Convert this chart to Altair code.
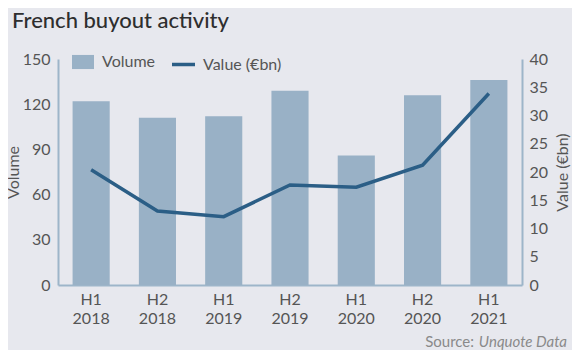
import altair as alt
import pandas as pd

periods = ["H1 2018", "H2 2018", "H1 2019", "H2 2019", "H1 2020", "H2 2020", "H1 2021"]
volume = [122, 111, 112, 129, 86, 126, 136]
value_bn = [20.4, 13.1, 12.1, 17.7, 17.3, 21.2, 33.9]

BG = "#E7E8EE"
BAR = "#99B1C6"
LINE = "#2B5E86"
AXIS = "#9DB5C9"
TXT = "#555555"
FONT = "Lato"

df = pd.DataFrame({"period": periods, "volume": volume, "value": value_bn,
                   "s1": "Volume", "s2": "Value (€bn)"})

x = alt.X("period:N", sort=periods, title=None,
          scale=alt.Scale(paddingInner=0.44, paddingOuter=0.22),
          axis=alt.Axis(labelAngle=0, labelExpr="split(datum.label, ' ')",
                        labelFontSize=16, labelColor=TXT, labelFont=FONT,
                        labelPadding=6, ticks=False, domainColor=AXIS,
                        domainWidth=2, labelLineHeight=19))

bars = alt.Chart(df).mark_bar(color=BAR).encode(
    x=x,
    y=alt.Y("volume:Q", title="Volume",
            scale=alt.Scale(domain=[0, 150], nice=False),
            axis=alt.Axis(values=[0, 30, 60, 90, 120, 150], grid=False, ticks=False,
                          domainColor=AXIS, domainWidth=2, labelFontSize=16,
                          labelColor=TXT, labelFont=FONT, labelPadding=8,
                          titleFontSize=16, titleFont=FONT, titleColor=TXT,
                          titleFontWeight="normal", titlePadding=1)),
    fill=alt.Fill("s1:N", scale=alt.Scale(domain=["Volume"], range=[BAR]),
                  legend=alt.Legend(orient="none", legendX=14, legendY=-8, title=None,
                                    symbolType="M-1,-0.64L1,-0.64L1,0.64L-1,0.64Z",
                                    symbolSize=484, symbolStrokeWidth=0,
                                    labelFontSize=16, labelFont=FONT, labelColor=TXT,
                                    labelOffset=8)),
)

line = alt.Chart(df).mark_line(strokeWidth=3.5).encode(
    x=x,
    y=alt.Y("value:Q", title="Value (€bn)",
            scale=alt.Scale(domain=[0, 40], nice=False),
            axis=alt.Axis(orient="right", values=[0, 5, 10, 15, 20, 25, 30, 35, 40],
                          grid=False, ticks=False, domainColor=AXIS, domainWidth=2,
                          labelFontSize=16, labelColor=TXT, labelFont=FONT,
                          labelPadding=7, titleFontSize=16, titleFont=FONT,
                          titleColor=TXT, titleFontWeight="normal", titleAngle=270,
                          titleBaseline="top", titlePadding=7)),
    stroke=alt.Stroke("s2:N", scale=alt.Scale(domain=["Value (€bn)"], range=[LINE]),
                      legend=alt.Legend(orient="none", legendX=112, legendY=-8, title=None,
                                        symbolType="stroke", symbolSize=529,
                                        symbolStrokeWidth=3.5,
                                        labelFontSize=16, labelFont=FONT, labelColor=TXT,
                                        labelOffset=6)),
)

title_df = pd.DataFrame({"t": ["French buyout activity"]})
title = alt.Chart(title_df).mark_text(
    align="left", baseline="alphabetic", font=FONT, fontSize=22, fontWeight=500,
    color="#2E2E2E"
).encode(text="t:N", x=alt.value(-46), y=alt.value(-31))

src1 = alt.Chart(pd.DataFrame({"t": ["Source:"]})).mark_text(
    align="right", baseline="alphabetic", font=FONT, fontSize=15, color="#8A8A8A"
).encode(text="t:N", x=alt.value(416), y=alt.value(288))

src2 = alt.Chart(pd.DataFrame({"t": ["Unquote Data"]})).mark_text(
    align="right", baseline="alphabetic", font=FONT, fontSize=15, fontStyle="italic",
    color="#8A8A8A"
).encode(text="t:N", x=alt.value(509), y=alt.value(288))

chart = alt.layer(bars, line, title, src1, src2).resolve_scale(
    y="independent", fill="independent", stroke="independent"
).properties(
    width=464, height=226,
    autosize=alt.AutoSizeParams(type="none"),
    padding={"left": 50, "top": 51, "right": 50, "bottom": 65},
    background=BG,
).configure_view(stroke=None)

chart.save("out.html", embed_options={"renderer": "svg", "actions": False})
